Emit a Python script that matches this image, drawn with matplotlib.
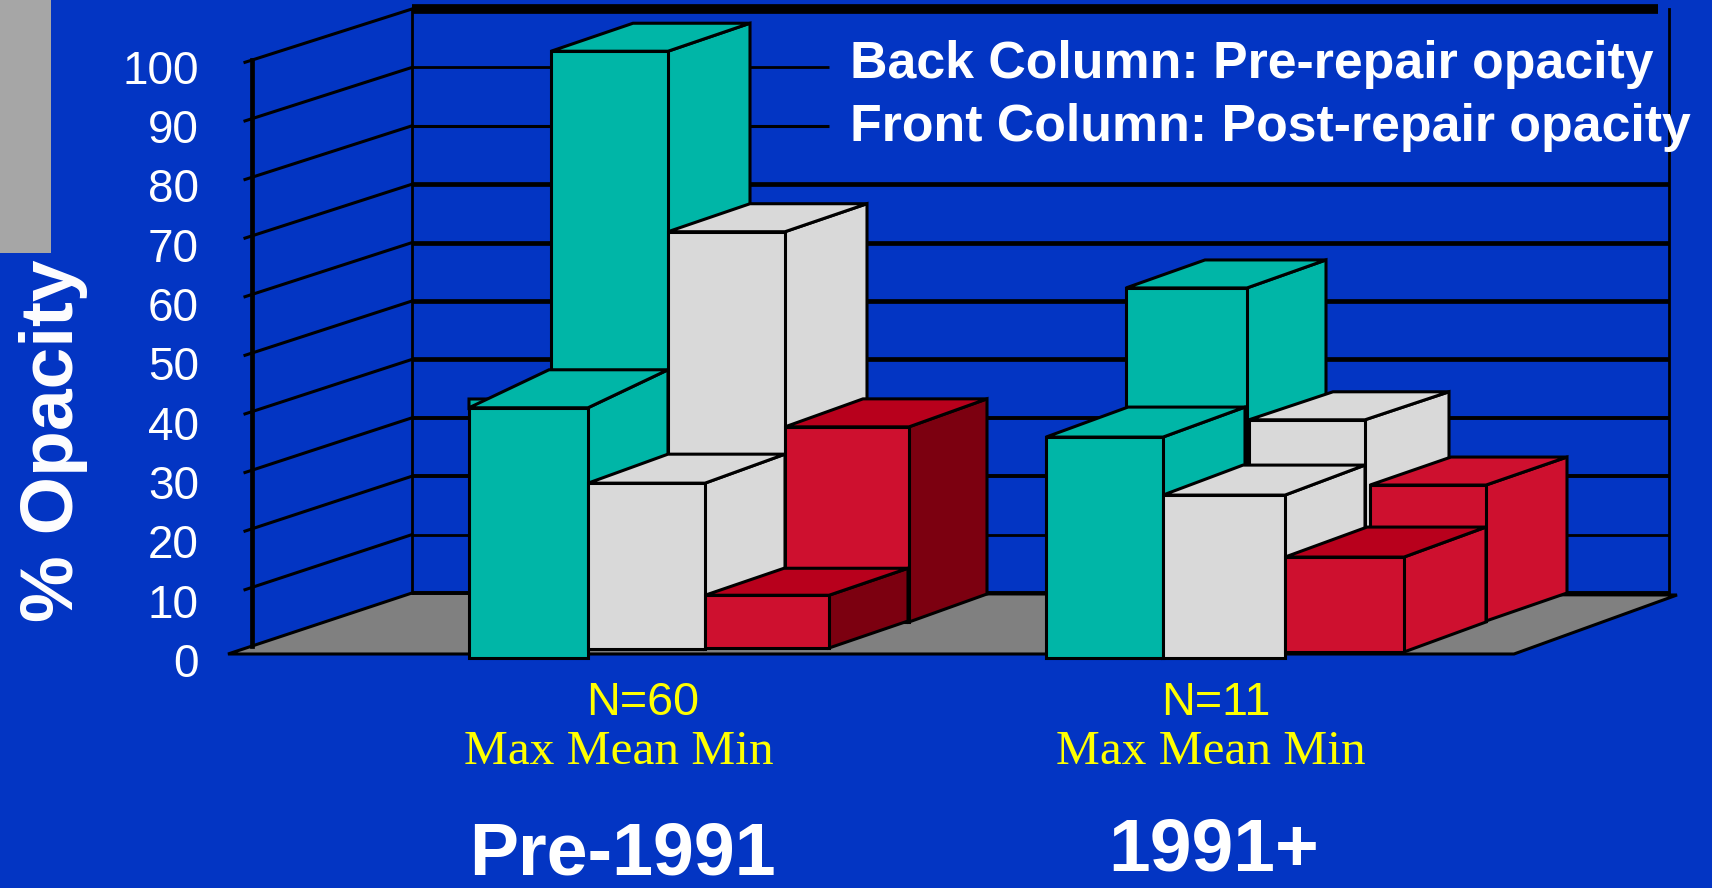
import matplotlib
matplotlib.use('Agg')
import matplotlib.pyplot as plt
from matplotlib.patches import Polygon, Rectangle

# opacity readings, one list per row of columns, order is max / mean / min
back_pre = [97.4, 66.6, 33.3]
front_pre = [42.7, 28.3, 9.0]
back_post = [58.2, 35.7, 23.2]
front_post = [37.7, 27.8, 16.2]

ticks = [0, 10, 20, 30, 40, 50, 60, 70, 80, 90, 100]
n_labels = ['N=60', 'N=11']
stat_label = 'Max Mean Min'
group_labels = ['Pre-1991', '1991+']
key_lines = ['Back Column: Pre-repair opacity', 'Front Column: Post-repair opacity']

BLUE = '#0335C3'
TEAL = '#00B6A7'
LIGHT = '#D9D9D9'
RED = '#CE102F'
RED_TOP = '#B8001C'
RED_DARK = '#7C0010'

# y axis: 5.86 px per percent, zero at 646 px from the top of the 888 px figure
PX = 5.86
ZERO = 646.0
WALL_DY = 53 / PX
WALL_SCALE = 5.84 / PX


def pct(px):
    # pixel row to axis percent, only used for non-data furniture
    return (ZERO - px) / PX


def draw_column(ax, x0, x1, base, value, dx, dy, face, top, side, z, lift=0):
    # column drawn as three faces, with the depth sheared up and to the right
    dy = dy / PX
    y0 = pct(base)
    y1 = y0 + value
    # lift keeps the side face from poking out under a shorter neighbour
    s0 = y0 + lift / PX
    s_x = x1 + lift * dx / max(dy * PX, 1)
    edge = dict(edgecolor='black', linewidth=2.2, joinstyle='miter', zorder=z)
    ax.add_patch(Polygon([(s_x, s0), (x1 + dx, y0 + dy), (x1 + dx, y1 + dy), (x1, y1), (x1, s0)],
                         facecolor=side, **edge))
    ax.add_patch(Polygon([(x0, y1), (x1, y1), (x1 + dx, y1 + dy), (x0 + dx, y1 + dy)],
                         facecolor=top, **edge))
    ax.add_patch(Polygon([(x0, y0), (x1, y0), (x1, y1), (x0, y1)],
                         facecolor=face, **edge))


fig = plt.figure(figsize=(17.12, 8.88), dpi=100, facecolor=BLUE)
ax = fig.add_axes([0, 0, 1, 1])
ax.set_xlim(0, 1712)
ax.set_ylim(pct(888), pct(0))
ax.axis('off')

ax.add_patch(Rectangle((0, pct(253)), 51, pct(0) - pct(253), facecolor='#A6A6A6',
                       edgecolor='none', zorder=1))

# floor
ax.add_patch(Polygon([(228, pct(654)), (412, pct(593)), (1677, pct(595)), (1514, pct(654))],
                     facecolor='#808080', edgecolor='black', linewidth=2.2, zorder=2))

# back wall gridlines, heavier in the middle and on top
grid_lw = {0: 2.8, 10: 2.0, 20: 2.8, 30: 2.8, 40: 3.4, 50: 3.4, 60: 3.4, 70: 3.4,
           80: 2.2, 90: 2.0, 100: 7.0}
for t in ticks:
    y_back = t * WALL_SCALE + WALL_DY
    x_end = 1669
    if t in (80, 90):
        x_end = 829
    if t == 100:
        x_end = 1658
    ax.plot([412, x_end], [y_back, y_back], color='black', lw=grid_lw[t], zorder=3,
            solid_capstyle='butt')
    if t > 0:
        ax.plot([245, 412], [t - 7 / PX * 0.33, y_back], color='black', lw=2.2, zorder=3)

top_back = 100 * WALL_SCALE + WALL_DY
ax.plot([412, 412], [WALL_DY, top_back], color='black', lw=2.0, zorder=3)
ax.plot([1669, 1669], [WALL_DY, top_back], color='black', lw=2.0, zorder=3)
ax.plot([252, 252], [0, 100], color='black', lw=3.4, zorder=3)

# Pre-1991 columns
pre_colors = [(TEAL, TEAL, TEAL), (LIGHT, LIGHT, LIGHT), (RED, RED_TOP, RED_DARK)]
back_pre_x = [(551, 668), (668, 785), (785, 909)]
back_pre_dx = [82, 82, 78]
front_pre_x = [(469, 588), (588, 705), (705, 829)]
front_pre_base = [658, 649, 648]
front_pre_depth = [(80, 38), (80, 29), (79, 27)]
front_pre_lift = [10, 0, 0]
z = 4
for i, v in enumerate(back_pre):
    draw_column(ax, *back_pre_x[i], 622, v, back_pre_dx[i], 28, *pre_colors[i], z)
    z += 1
ax.add_patch(Polygon([(469, pct(399)), (492, pct(399)), (469, pct(408))], facecolor=TEAL,
                     edgecolor='black', linewidth=2.2, zorder=z))
z += 1
for i, v in enumerate(front_pre):
    draw_column(ax, *front_pre_x[i], front_pre_base[i], v, *front_pre_depth[i],
                *pre_colors[i], z, front_pre_lift[i])
    z += 1

# 1991+ columns
post_back_colors = [(TEAL, TEAL, TEAL), (LIGHT, LIGHT, LIGHT), (RED, RED, RED)]
post_front_colors = [(TEAL, TEAL, TEAL), (LIGHT, LIGHT, LIGHT), (RED, RED_TOP, RED)]
back_post_x = [(1126, 1247), (1249, 1365), (1370, 1486)]
back_post_dx = [79, 84, 81]
front_post_x = [(1046, 1163), (1163, 1285), (1285, 1404)]
front_post_dx = [82, 80, 82]
front_post_lift = [0, 7, 0]
back_post_base = [629, 629, 621]
front_post_base = [658, 658, 652]
for i, v in enumerate(back_post):
    draw_column(ax, *back_post_x[i], back_post_base[i], v, back_post_dx[i], 28,
                *post_back_colors[i], z)
    z += 1
for i, v in enumerate(front_post):
    draw_column(ax, *front_post_x[i], front_post_base[i], v, front_post_dx[i], 30,
                *post_front_colors[i], z, front_post_lift[i])
    z += 1

# text
sans = 'Liberation Sans'
serif = 'Liberation Serif'
for t in ticks:
    ax.text(199, t * 1.012 - 2.36, str(t), color='white', family=sans, fontsize=33,
            ha='right', va='center_baseline', zorder=40)

ax.text(54, pct(441), '% Opacity', color='white', family=sans, fontsize=54, fontweight='bold',
        rotation=90, ha='center', va='center', zorder=40)
ax.text(850, pct(65), key_lines[0], color='white', family=sans, fontsize=37.4, fontweight='bold',
        ha='left', va='center', zorder=40)
ax.text(850, pct(128), key_lines[1], color='white', family=sans, fontsize=37.4, fontweight='bold',
        ha='left', va='center', zorder=40)

n_x = [643, 1216]
stat_x = [619, 1211]
group_x = [622, 1214]
group_y = [855, 851]
group_size = [53, 54]
for i in range(2):
    ax.text(n_x[i], pct(703), n_labels[i], color='#FFFF00', family=sans, fontsize=33.7,
            ha='center', va='center', zorder=40)
    ax.text(stat_x[i], pct(752), stat_label, color='#FFFF00', family=serif, fontsize=35.5,
            ha='center', va='center', zorder=40)
    ax.text(group_x[i], pct(group_y[i]), group_labels[i], color='white', family=sans,
            fontsize=group_size[i], fontweight='bold', ha='center', va='center', zorder=40)

fig.savefig('out.png', dpi=100, facecolor=BLUE)
